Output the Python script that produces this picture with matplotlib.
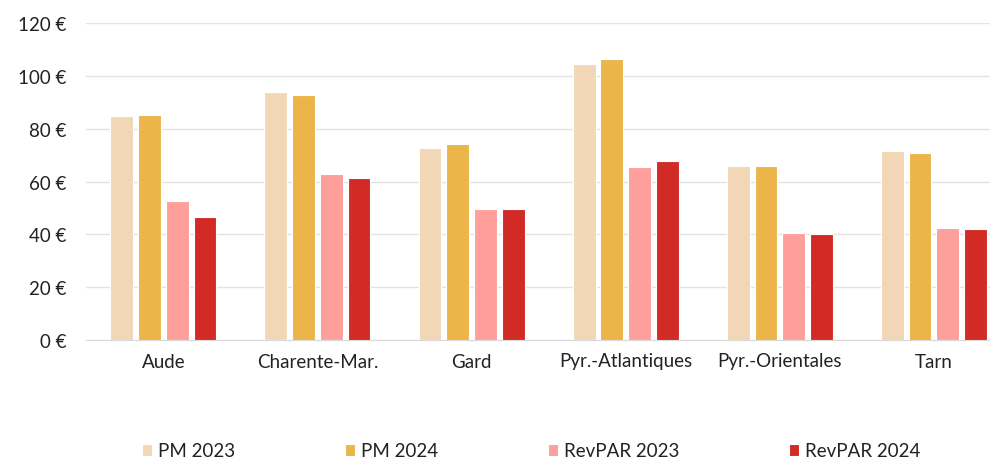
import matplotlib.pyplot as plt
import numpy as np

plt.rcParams['font.family'] = ['Lato', 'DejaVu Sans']

departements = ['Aude', 'Charente-Mar.', 'Gard', 'Pyr.-Atlantiques', 'Pyr.-Orientales', 'Tarn']
pm_2023 = [84.7, 93.7, 72.5, 104.6, 66.0, 71.4]
pm_2024 = [85.3, 92.6, 74.3, 106.4, 66.0, 70.8]
revpar_2023 = [52.6, 62.9, 49.6, 65.3, 40.6, 42.4]
revpar_2024 = [46.7, 61.2, 49.6, 67.7, 40.0, 41.9]

series = [
    ('PM 2023', pm_2023, '#F2D7B6'),
    ('PM 2024', pm_2024, '#EBB54A'),
    ('RevPAR 2023', revpar_2023, '#FF9F9B'),
    ('RevPAR 2024', revpar_2024, '#D22B26'),
]

fig = plt.figure(figsize=(9.9, 4.6), dpi=100)
ax = fig.add_axes([86.3 / 990, 1 - 341 / 460, (1011 - 86.3) / 990, (341 - 24) / 460])

x = np.arange(len(departements))
step = 0.18
width = 0.148
for i, (name, vals, col) in enumerate(series):
    ax.bar(x + (i - 1.5) * step, vals, width, color=col, edgecolor='white',
           linewidth=0.8, label=name, zorder=3)

ax.set_xlim(-0.5, len(departements) - 0.5)
ax.set_ylim(0, 120)
ax.set_yticks(range(0, 121, 20))
ax.set_yticklabels([f'{v} €' for v in range(0, 121, 20)])
ax.set_xticks(x)
ax.set_xticklabels(departements)
ax.grid(axis='y', color='#E3E3E3', linewidth=1, zorder=0)
for s in ['top', 'right', 'left']:
    ax.spines[s].set_visible(False)
ax.spines['bottom'].set_color('#D9D9D9')
ax.tick_params(axis='both', length=0, labelsize=13.5, colors='#222222')
ax.tick_params(axis='y', pad=14)
ax.tick_params(axis='x', pad=9)

fig.legend(loc='center', bbox_to_anchor=(531 / 990, 1 - 452 / 460), ncol=4,
           frameon=False, fontsize=13.5, handlelength=0.55, handleheight=0.55,
           handletextpad=0.3, columnspacing=5.85, labelcolor='#222222')

fig.savefig('out.png', dpi=100)
